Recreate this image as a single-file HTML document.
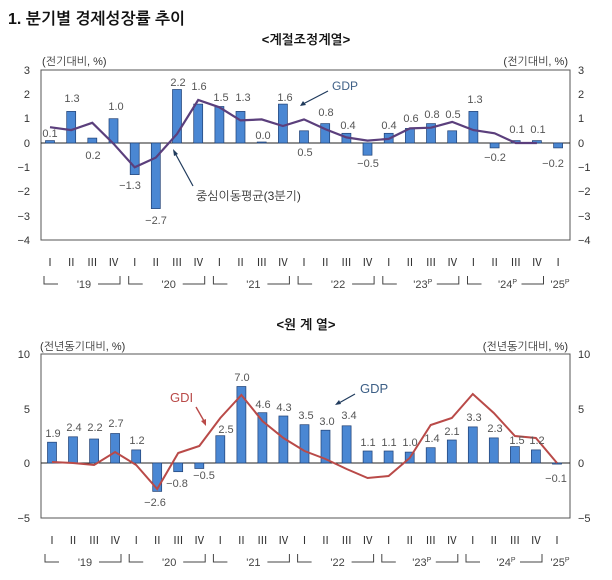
<!DOCTYPE html>
<html><head><meta charset="utf-8"><style>
body{margin:0;background:#fff;width:612px;height:580px;overflow:hidden}
svg{display:block}
text{font-family:"Liberation Sans","Noto Sans CJK KR",sans-serif}
.k{font-family:"Liberation Sans","NanumGothic","Noto Sans CJK KR",sans-serif}
.v{font-size:11px;fill:#555;text-anchor:middle}
.a{font-size:11px;fill:#333}
.q{font-size:11px;fill:#333;text-anchor:middle;font-family:"Liberation Serif",serif}
.y{font-size:11px;fill:#444;text-anchor:middle}
.bar{fill:#4a87d3;stroke:#1f3f73;stroke-width:0.7}
</style></head><body>
<svg width="612" height="580" viewBox="0 0 612 580" xmlns="http://www.w3.org/2000/svg">
<defs>
<path id="br" d="M0,0 V8 H14 M54,8 H76 V0" fill="none" stroke="#444" stroke-width="1"/>
</defs>
<text x="8" y="24" class="k" font-size="16" font-weight="bold" fill="#111">1. 분기별 경제성장률 추이</text>
<text x="306" y="44" class="k" font-size="13" font-weight="bold" fill="#111" text-anchor="middle">&lt;계절조정계열&gt;</text>

<!-- TOP CHART -->
<rect x="41" y="70" width="529" height="170" fill="none" stroke="#555" stroke-width="1"/>
<line x1="41" y1="143" x2="570" y2="143" stroke="#222" stroke-width="1"/>
<g class="a" text-anchor="end">
<text x="30" y="74">3</text><text x="30" y="98">2</text><text x="30" y="122">1</text><text x="30" y="147">0</text>
<text x="30" y="171">−1</text><text x="30" y="195">−2</text><text x="30" y="220">−3</text><text x="30" y="244">−4</text>
</g>
<g class="a">
<text x="578" y="74">3</text><text x="578" y="98">2</text><text x="578" y="122">1</text><text x="578" y="147">0</text>
<text x="578" y="171">−1</text><text x="578" y="195">−2</text><text x="578" y="220">−3</text><text x="578" y="244">−4</text>
</g>
<text x="42" y="65" class="a k" font-size="10.5">(전기대비, %)</text>
<text x="568" y="65" class="a k" font-size="10.5" text-anchor="end">(전기대비, %)</text>
<g class="bar">
<rect x="45.5" y="140.6" width="9" height="2.4"/>
<rect x="66.7" y="111.4" width="9" height="31.6"/>
<rect x="87.8" y="138.1" width="9" height="4.9"/>
<rect x="109" y="118.7" width="9" height="24.3"/>
<rect x="130.2" y="143" width="9" height="31.6"/>
<rect x="151.3" y="143" width="9" height="65.6"/>
<rect x="172.5" y="89.5" width="9" height="53.5"/>
<rect x="193.7" y="104.1" width="9" height="38.9"/>
<rect x="214.9" y="106.5" width="9" height="36.5"/>
<rect x="236" y="111.4" width="9" height="31.6"/>
<rect x="257.2" y="142" width="9" height="1"/>
<rect x="278.4" y="104.1" width="9" height="38.9"/>
<rect x="299.5" y="130.8" width="9" height="12.2"/>
<rect x="320.7" y="123.6" width="9" height="19.4"/>
<rect x="341.9" y="133.3" width="9" height="9.7"/>
<rect x="363" y="143" width="9" height="12.2"/>
<rect x="384.2" y="133.3" width="9" height="9.7"/>
<rect x="405.4" y="128.4" width="9" height="14.6"/>
<rect x="426.5" y="123.6" width="9" height="19.4"/>
<rect x="447.7" y="130.8" width="9" height="12.2"/>
<rect x="468.9" y="111.4" width="9" height="31.6"/>
<rect x="490.1" y="143" width="9" height="4.9"/>
<rect x="511.2" y="140.6" width="9" height="2.4"/>
<rect x="532.4" y="140.6" width="9" height="2.4"/>
<rect x="553.6" y="143" width="9" height="4.9"/>
</g>
<polyline fill="none" stroke="#5b3f7c" stroke-width="2.2" points="50,127.2 71.2,130.1 92.3,122.8 113.5,143.7 134.7,167.3 155.8,157.6 177,134 198.2,100 219.4,107.3 240.5,120.4 261.7,119.4 282.9,126 304,119.4 325.2,129.1 346.4,137.4 367.5,140.6 388.7,138.9 409.9,128.4 431,127.7 452.2,121.9 473.4,130.1 494.6,133.3 515.7,143 536.9,143"/>
<g class="v">
<text x="50" y="137">0.1</text><text x="72" y="102">1.3</text><text x="93" y="159">0.2</text><text x="116" y="110">1.0</text>
<text x="130" y="189">−1.3</text><text x="156" y="224">−2.7</text><text x="178" y="86">2.2</text><text x="199" y="90">1.6</text>
<text x="221" y="101">1.5</text><text x="243" y="101">1.3</text><text x="263" y="139">0.0</text><text x="285" y="101">1.6</text>
<text x="305" y="156">0.5</text><text x="326" y="116">0.8</text><text x="348" y="129">0.4</text><text x="368" y="167">−0.5</text>
<text x="389" y="129">0.4</text><text x="411" y="122">0.6</text><text x="432" y="118">0.8</text><text x="453" y="118">0.5</text>
<text x="475" y="103">1.3</text><text x="495" y="161">−0.2</text><text x="517" y="133">0.1</text><text x="538" y="133">0.1</text>
<text x="553" y="167">−0.2</text>
</g>
<text x="332" y="90" font-size="12" fill="#3d5f86">GDP</text>
<line x1="328" y1="91" x2="303" y2="104" stroke="#1f3a5c" stroke-width="1.2"/>
<path d="M300,106 l6,-1 l-3,-4 z" fill="#1f3a5c"/>
<text x="196" y="200" class="k" font-size="12" fill="#333">중심이동평균(3분기)</text>
<line x1="193" y1="186" x2="175" y2="153" stroke="#1f3a5c" stroke-width="1.2"/>
<path d="M173,149 l1,7 l4,-2 z" fill="#1f3a5c"/>
<g class="q">
<text x="50" y="266">Ⅰ</text><text x="71.2" y="266">Ⅱ</text><text x="92.3" y="266">Ⅲ</text><text x="113.5" y="266">Ⅳ</text>
<text x="134.7" y="266">Ⅰ</text><text x="155.8" y="266">Ⅱ</text><text x="177" y="266">Ⅲ</text><text x="198.2" y="266">Ⅳ</text>
<text x="219.4" y="266">Ⅰ</text><text x="240.5" y="266">Ⅱ</text><text x="261.7" y="266">Ⅲ</text><text x="282.9" y="266">Ⅳ</text>
<text x="304" y="266">Ⅰ</text><text x="325.2" y="266">Ⅱ</text><text x="346.4" y="266">Ⅲ</text><text x="367.5" y="266">Ⅳ</text>
<text x="388.7" y="266">Ⅰ</text><text x="409.9" y="266">Ⅱ</text><text x="431" y="266">Ⅲ</text><text x="452.2" y="266">Ⅳ</text>
<text x="473.4" y="266">Ⅰ</text><text x="494.6" y="266">Ⅱ</text><text x="515.7" y="266">Ⅲ</text><text x="536.9" y="266">Ⅳ</text>
<text x="558.1" y="266">Ⅰ</text>
</g>
<use href="#br" x="44" y="276"/><use href="#br" x="128.7" y="276"/><use href="#br" x="213.4" y="276"/>
<use href="#br" x="298.1" y="276"/><use href="#br" x="382.8" y="276"/><use href="#br" x="467.5" y="276"/>
<g class="y">
<text x="84" y="288">'19</text><text x="168.7" y="288">'20</text><text x="253.4" y="288">'21</text>
<text x="338.1" y="288">'22</text><text x="422.8" y="288">'23<tspan font-size="7" dy="-4">P</tspan></text>
<text x="507.5" y="288">'24<tspan font-size="7" dy="-4">P</tspan></text><text x="560" y="288">'25<tspan font-size="7" dy="-4">P</tspan></text>
</g>

<!-- BOTTOM CHART -->
<text x="306" y="329" class="k" font-size="13" font-weight="bold" fill="#111" text-anchor="middle">&lt;원 계 열&gt;</text>
<rect x="41" y="354" width="529" height="164" fill="none" stroke="#555" stroke-width="1"/>
<line x1="41" y1="463" x2="570" y2="463" stroke="#222" stroke-width="1"/>
<g class="a" text-anchor="end">
<text x="30" y="358">10</text><text x="30" y="413">5</text><text x="30" y="467">0</text><text x="30" y="522">−5</text>
</g>
<g class="a">
<text x="578" y="358">10</text><text x="578" y="413">5</text><text x="578" y="467">0</text><text x="578" y="522">−5</text>
</g>
<text x="40" y="350" class="a k" font-size="10.5">(전년동기대비, %)</text>
<text x="568" y="350" class="a k" font-size="10.5" text-anchor="end">(전년동기대비, %)</text>
<g class="bar">
<rect x="47.5" y="442.2" width="9" height="20.8"/>
<rect x="68.5" y="436.8" width="9" height="26.2"/>
<rect x="89.6" y="439" width="9" height="24"/>
<rect x="110.6" y="433.5" width="9" height="29.5"/>
<rect x="131.7" y="449.9" width="9" height="13.1"/>
<rect x="152.7" y="463" width="9" height="28.4"/>
<rect x="173.7" y="463" width="9" height="8.7"/>
<rect x="194.8" y="463" width="9" height="5.5"/>
<rect x="215.8" y="435.7" width="9" height="27.3"/>
<rect x="236.9" y="386.5" width="9" height="76.5"/>
<rect x="257.9" y="412.7" width="9" height="50.3"/>
<rect x="278.9" y="416" width="9" height="47"/>
<rect x="300" y="424.7" width="9" height="38.3"/>
<rect x="321" y="430.2" width="9" height="32.8"/>
<rect x="342.1" y="425.8" width="9" height="37.2"/>
<rect x="363.1" y="451" width="9" height="12"/>
<rect x="384.1" y="451" width="9" height="12"/>
<rect x="405.2" y="452.1" width="9" height="10.9"/>
<rect x="426.2" y="447.7" width="9" height="15.3"/>
<rect x="447.3" y="440" width="9" height="23"/>
<rect x="468.3" y="426.9" width="9" height="36.1"/>
<rect x="489.3" y="437.9" width="9" height="25.1"/>
<rect x="510.4" y="446.6" width="9" height="16.4"/>
<rect x="531.4" y="449.9" width="9" height="13.1"/>
<rect x="552.5" y="463" width="9" height="1.1"/>
</g>
<polyline fill="none" stroke="#b94a48" stroke-width="2" points="52,462 73,463 94.1,465 115.1,452 136.2,465 157.2,489 178.2,453 199.3,446 220.3,418 241.4,395 262.4,421 283.4,438 304.5,451 325.5,459 346.6,469 367.6,478 388.6,476 409.7,458 430.7,425 451.8,418 472.8,394 493.8,413 514.9,436 535.9,438 557,463"/>
<g class="v">
<text x="53" y="437">1.9</text><text x="74" y="431">2.4</text><text x="95" y="431">2.2</text><text x="116" y="427">2.7</text>
<text x="137" y="444">1.2</text><text x="155" y="506">−2.6</text><text x="177" y="487">−0.8</text><text x="204" y="479">−0.5</text>
<text x="226" y="433">2.5</text><text x="242" y="381">7.0</text><text x="263" y="408">4.6</text><text x="284" y="411">4.3</text>
<text x="306" y="419">3.5</text><text x="327" y="425">3.0</text><text x="349" y="419">3.4</text><text x="368" y="446">1.1</text>
<text x="389" y="446">1.1</text><text x="410" y="446">1.0</text><text x="432" y="442">1.4</text><text x="452" y="435">2.1</text>
<text x="474" y="421">3.3</text><text x="495" y="432">2.3</text><text x="517" y="444">1.5</text><text x="537" y="444">1.2</text>
<text x="556" y="482">−0.1</text>
</g>
<text x="170" y="402" font-size="13" fill="#b94a48">GDI</text>
<line x1="196" y1="407" x2="204" y2="421" stroke="#b94a48" stroke-width="1.4"/>
<path d="M206,426 l-5,-5 l5,-2 z" fill="#b94a48"/>
<text x="360" y="393" font-size="13" fill="#3d5f86">GDP</text>
<line x1="355" y1="394" x2="339" y2="403" stroke="#1f3a5c" stroke-width="1.2"/>
<path d="M335,405 l6,-1 l-2,-4 z" fill="#1f3a5c"/>
<g class="q">
<text x="52" y="544">Ⅰ</text><text x="73" y="544">Ⅱ</text><text x="94.1" y="544">Ⅲ</text><text x="115.1" y="544">Ⅳ</text>
<text x="136.2" y="544">Ⅰ</text><text x="157.2" y="544">Ⅱ</text><text x="178.2" y="544">Ⅲ</text><text x="199.3" y="544">Ⅳ</text>
<text x="220.3" y="544">Ⅰ</text><text x="241.4" y="544">Ⅱ</text><text x="262.4" y="544">Ⅲ</text><text x="283.4" y="544">Ⅳ</text>
<text x="304.5" y="544">Ⅰ</text><text x="325.5" y="544">Ⅱ</text><text x="346.6" y="544">Ⅲ</text><text x="367.6" y="544">Ⅳ</text>
<text x="388.6" y="544">Ⅰ</text><text x="409.7" y="544">Ⅱ</text><text x="430.7" y="544">Ⅲ</text><text x="451.8" y="544">Ⅳ</text>
<text x="472.8" y="544">Ⅰ</text><text x="493.8" y="544">Ⅱ</text><text x="514.9" y="544">Ⅲ</text><text x="535.9" y="544">Ⅳ</text>
<text x="557" y="544">Ⅰ</text>
</g>
<use href="#br" x="45" y="554"/><use href="#br" x="129.2" y="554"/><use href="#br" x="213.4" y="554"/>
<use href="#br" x="297.6" y="554"/><use href="#br" x="381.8" y="554"/><use href="#br" x="466" y="554"/>
<g class="y">
<text x="85" y="566">'19</text><text x="169.2" y="566">'20</text><text x="253.4" y="566">'21</text>
<text x="337.6" y="566">'22</text><text x="421.8" y="566">'23<tspan font-size="7" dy="-4">P</tspan></text>
<text x="506" y="566">'24<tspan font-size="7" dy="-4">P</tspan></text><text x="560" y="566">'25<tspan font-size="7" dy="-4">P</tspan></text>
</g>
</svg>
</body></html>
